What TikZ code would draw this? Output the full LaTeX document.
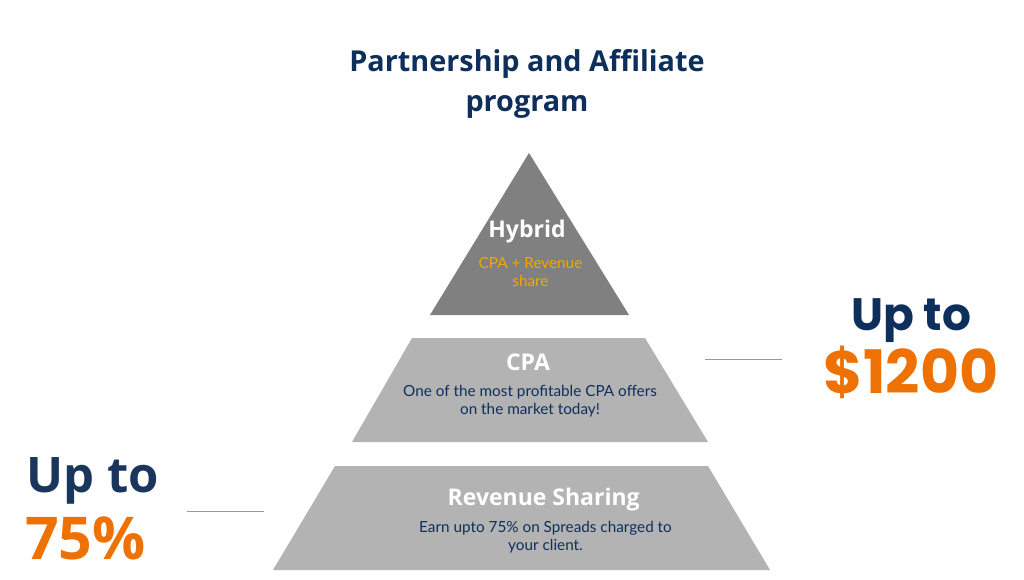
\documentclass[tikz,border=0pt]{standalone}
\usepackage{fontspec}
\setmainfont{Open Sans}
\newfontfamily\bodyfont{Lato}
\newfontfamily\popfont{Poppins}
\definecolor{navy}{HTML}{0E2F5C}
\definecolor{navyB}{HTML}{1B365D}
\definecolor{orng}{HTML}{EE7203}
\definecolor{ambr}{HTML}{F3A600}
\definecolor{darkgray}{HTML}{808080}
\definecolor{lightgray}{HTML}{B3B3B3}
\definecolor{linegray}{HTML}{9A9A9A}
\tikzset{
  lbl/.style={anchor=base, inner sep=0pt, outer sep=0pt},
  head/.style={lbl, text=white, font=\fontsize{23}{27}\selectfont\bfseries},
  small/.style={lbl, font=\bodyfont\fontsize{15.3}{18}\selectfont},
  rule/.style={draw=linegray, line width=1pt},
}
\begin{document}
\begin{tikzpicture}[x=1pt,y=-1pt]
\useasboundingbox[fill=white] (0,0) rectangle (1024,580);
% title
\node[lbl, text=navy, font=\fontsize{28.8}{34}\selectfont\bfseries] (t1) at (527,72) {Partnership and Affiliate};
\node[lbl, text=navy, font=\fontsize{28.8}{34}\selectfont\bfseries] (t2) at (527,112) {program};
% pyramid
\fill[darkgray] (529,153) -- (629,315) -- (430,315) -- cycle;
\fill[lightgray] (412,338) -- (645,338) -- (708,442) -- (352,442) -- cycle;
\fill[lightgray] (335,466) -- (708,466) -- (770,570) -- (273,570) -- cycle;
% hybrid
\node[head] (hy) at (527,237) {Hybrid};
\node[small, text=ambr] (hy1) at (530.5,268) {CPA + Revenue};
\node[small, text=ambr] (hy2) at (530.5,286) {share};
% CPA
\node[head] (cpa) at (528,370) {CPA};
\node[small, text=navy] (cpa1) at (530,396) {One of the most profitable CPA offers};
\node[small, text=navy] (cpa2) at (530,414) {on the market today!};
% revenue
\node[head] (rev) at (543.7,505) {Revenue Sharing};
\node[small, text=navy] (rev1) at (545.5,532) {Earn upto 75\% on Spreads charged to};
\node[small, text=navy] (rev2) at (545.5,550) {your client.};
% right label
\node[lbl, text=navy, font=\popfont\fontsize{45.4}{52}\selectfont\bfseries] (ru) at (911,330) {Up to};
\node[lbl, text=orng, font=\popfont\fontsize{60}{66}\selectfont\bfseries] (rd) at (911,393) {\$1200};
% left label
\node[lbl, anchor=base west, text=navyB, font=\fontsize{49}{56}\selectfont\bfseries] (lu) at (26.5,492) {Up to};
\node[lbl, anchor=base west, text=orng, font=\fontsize{59}{66}\selectfont\bfseries] (ld) at (25,559) {75\%};
% rules
\coordinate (r1) at (705,359);
\coordinate (r2) at (782,359);
\coordinate (l1) at (187,511);
\coordinate (l2) at (264,511);
\draw[rule] (r1) -- (r2);
\draw[rule] (l1) -- (l2);
\end{tikzpicture}
\end{document}
